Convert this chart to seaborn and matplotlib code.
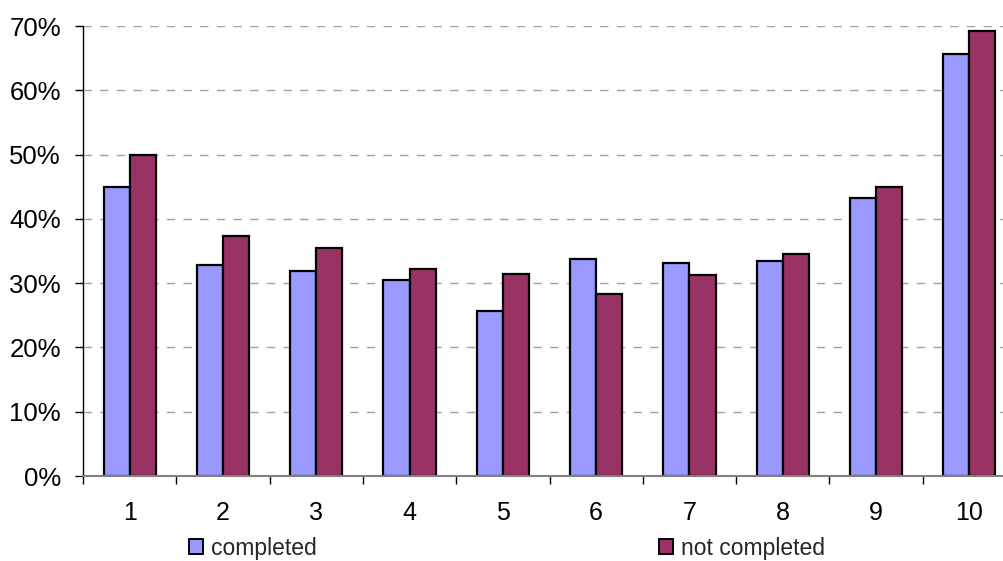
import matplotlib
matplotlib.use("Agg")
import matplotlib.pyplot as plt
from matplotlib.patches import Patch
from matplotlib.ticker import FuncFormatter, FixedLocator
import seaborn as sns
import pandas as pd

categories = ["1", "2", "3", "4", "5", "6", "7", "8", "9", "10"]
completed = [45.0, 32.8, 31.9, 30.5, 25.6, 33.8, 33.1, 33.5, 43.3, 65.6]
not_completed = [49.9, 37.4, 35.5, 32.2, 31.5, 28.3, 31.2, 34.5, 44.9, 69.2]
series_names = ["completed", "not completed"]
colors = ["#9999FF", "#993366"]

df = pd.DataFrame({
    "category": categories * 2,
    "value": completed + not_completed,
    "series": [series_names[0]] * len(categories) + [series_names[1]] * len(categories),
})

sns.set_theme(style="white")
plt.rcParams["font.family"] = ["Liberation Sans", "DejaVu Sans"]

fig = plt.figure(figsize=(10.04, 5.61), dpi=100)
ax = fig.add_axes([83 / 1004, 1 - 476 / 561, 933 / 1004, 450 / 561])

sns.barplot(data=df, x="category", y="value", hue="series", order=categories,
            hue_order=series_names, palette=colors, width=0.56, dodge=True,
            edgecolor="black", linewidth=1.6, saturation=1, legend=False, ax=ax)

ax.set_xlim(-0.5, len(categories) - 0.5)
ax.set_ylim(0, 70)
ax.set_yticks(range(0, 71, 10))
ax.yaxis.set_major_formatter(FuncFormatter(lambda v, _: f"{v:.0f}%"))
ax.yaxis.grid(True, linestyle=(0, (6, 6)), color="#A0A0A0", linewidth=1)
ax.set_axisbelow(True)
ax.set_xlabel("")
ax.set_ylabel("")

# category boundary ticks below the axis, labels centred on each group
ax.xaxis.set_minor_locator(FixedLocator([i - 0.5 for i in range(len(categories) + 1)]))
ax.tick_params(axis="x", which="minor", length=6, width=1, color="black", direction="out", bottom=True)
ax.tick_params(axis="x", which="major", length=0, labelsize=18, pad=18, colors="black")
ax.tick_params(axis="y", which="major", length=6, width=1, color="black", direction="out",
               left=True, labelsize=18.5, pad=10, labelcolor="black")

for side in ["top", "right"]:
    ax.spines[side].set_visible(False)
ax.spines["left"].set_color("black")
ax.spines["left"].set_linewidth(1)
ax.spines["bottom"].set_color("#808080")
ax.spines["bottom"].set_linewidth(1.5)

for name, color, xpos in zip(series_names, colors, [189 / 1004, 659 / 1004]):
    fig.legend(handles=[Patch(facecolor=color, edgecolor="black", linewidth=1.4, label=name)],
               loc="center left", bbox_to_anchor=(xpos, 1 - 548 / 561), frameon=False,
               fontsize=16.5, handlelength=0.6, handleheight=0.6, handletextpad=0.35,
               borderpad=0, borderaxespad=0)

fig.savefig("out.png", dpi=100)
